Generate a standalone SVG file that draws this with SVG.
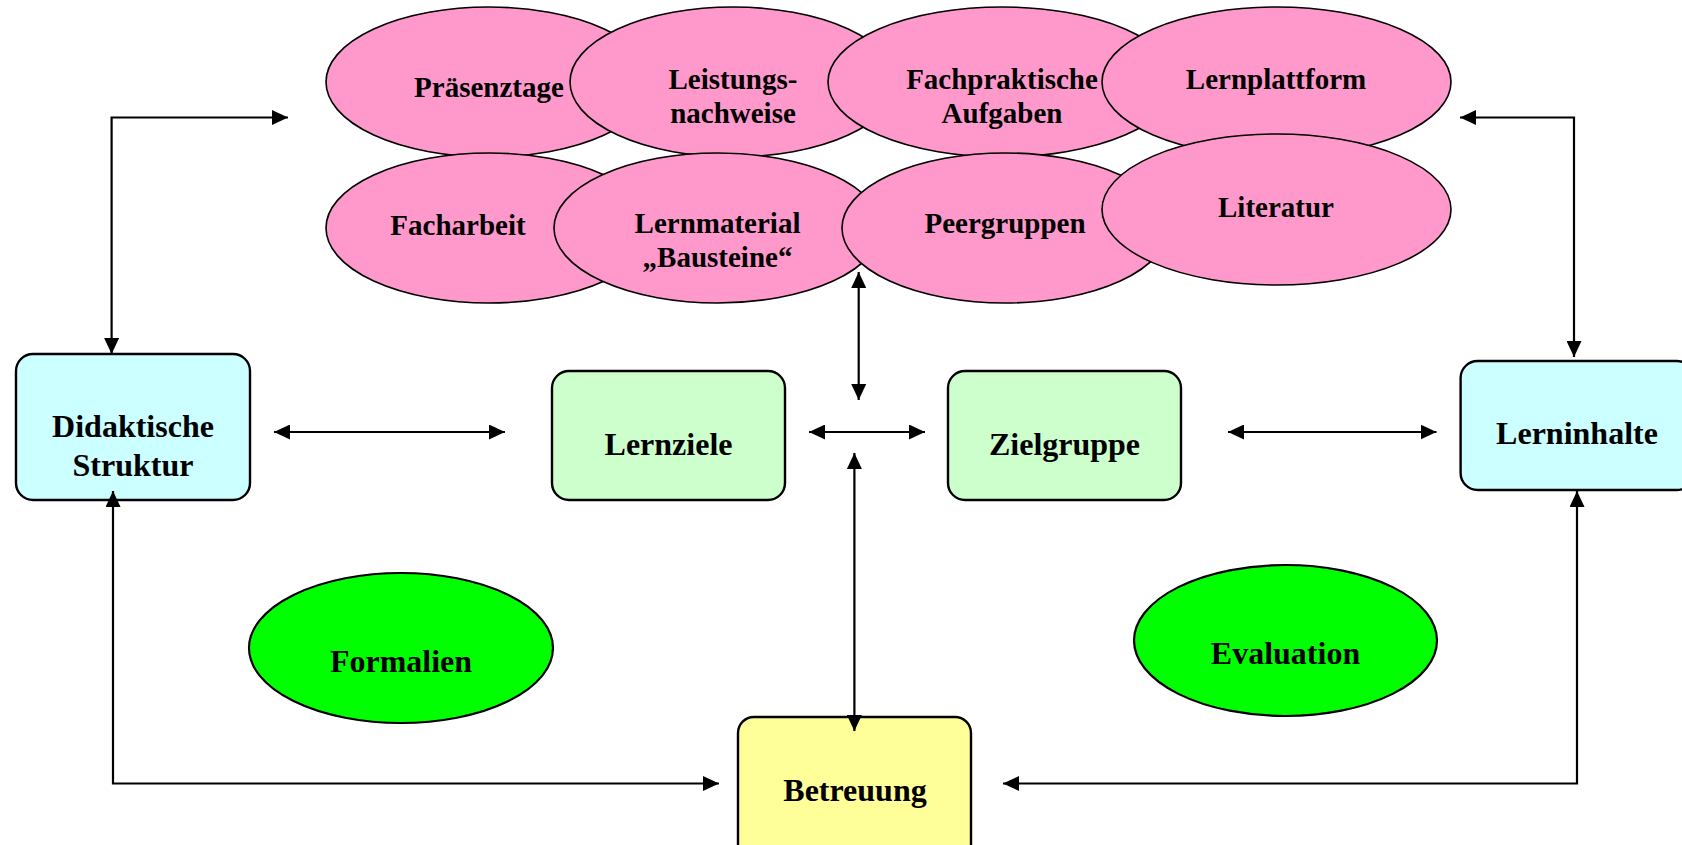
<svg xmlns="http://www.w3.org/2000/svg" width="1682" height="845" viewBox="0 0 1682 845">
<style>
.pink{fill:#FF99CC;stroke:#000;stroke-width:1.6}
.green{fill:#00FF00;stroke:#000;stroke-width:2.2}
.box{stroke:#000;stroke-width:2.4}
.cyan{fill:#CCFFFF}
.lgreen{fill:#CCFFCC}
.yellow{fill:#FFFF99}
text{font-family:"Liberation Serif","Times New Roman",serif;font-weight:bold;fill:#000;text-anchor:middle}
.t29{font-size:29px}
.t32{font-size:32px}
.conn{fill:none;stroke:#000;stroke-width:2.2;marker-start:url(#ah);marker-end:url(#ah)}
</style>
<defs>
<marker id="ah" markerUnits="userSpaceOnUse" markerWidth="16" markerHeight="15" viewBox="0 0 16 15" refX="16" refY="7.5" orient="auto-start-reverse">
<path d="M0,0 L16,7.5 L0,15 z" fill="#000"/>
</marker>
</defs>
<rect width="1682" height="845" fill="#fff"/>

<g id="praesenztage"><ellipse class="pink" cx="489" cy="82" rx="163" ry="75"/><text class="t29" x="489" y="97">Präsenztage</text></g>
<g id="leistungsnachweise"><ellipse class="pink" cx="733" cy="82" rx="163" ry="75"/><text class="t29" x="733" y="89">Leistungs-</text><text class="t29" x="733" y="123">nachweise</text></g>
<g id="fachpraktische"><ellipse class="pink" cx="1002" cy="82" rx="174" ry="75"/><text class="t29" x="1002" y="89">Fachpraktische</text><text class="t29" x="1002" y="123">Aufgaben</text></g>
<g id="lernplattform"><ellipse class="pink" cx="1276.5" cy="82" rx="174.5" ry="75"/><text class="t29" x="1276" y="89">Lernplattform</text></g>
<g id="facharbeit"><ellipse class="pink" cx="489" cy="228" rx="163" ry="75"/><text class="t29" x="458" y="235">Facharbeit</text></g>
<g id="lernmaterial"><ellipse class="pink" cx="717.5" cy="228" rx="163.5" ry="75"/><text class="t29" x="717.5" y="233">Lernmaterial</text><text class="t29" x="717.5" y="267">„Bausteine“</text></g>
<g id="peergruppen"><ellipse class="pink" cx="1005" cy="228" rx="163" ry="75"/><text class="t29" x="1005" y="233">Peergruppen</text></g>
<g id="literatur"><ellipse class="pink" cx="1276.5" cy="209.5" rx="174.5" ry="75.5"/><text class="t29" x="1276" y="217">Literatur</text></g>

<g id="didaktische"><rect class="box cyan" x="16" y="354" width="234" height="146" rx="17"/><text class="t32" x="133" y="437">Didaktische</text><text class="t32" x="133" y="476">Struktur</text></g>
<g id="lernziele"><rect class="box lgreen" x="552" y="371" width="233" height="129" rx="17"/><text class="t32" x="668.5" y="455">Lernziele</text></g>
<g id="zielgruppe"><rect class="box lgreen" x="948" y="371" width="233" height="129" rx="17"/><text class="t32" x="1064.5" y="455">Zielgruppe</text></g>
<g id="lerninhalte"><rect class="box cyan" x="1460.6" y="361" width="233" height="129" rx="17"/><text class="t32" x="1577" y="444">Lerninhalte</text></g>
<g id="betreuung"><rect class="box yellow" x="738" y="717" width="233" height="145" rx="16"/><text class="t32" x="855" y="801">Betreuung</text></g>
<g id="formalien"><ellipse class="green" cx="401" cy="648" rx="152" ry="75"/><text class="t32" x="401" y="672">Formalien</text></g>
<g id="evaluation"><ellipse class="green" cx="1285.5" cy="640.5" rx="151.5" ry="75.5"/><text class="t32" x="1285.5" y="664">Evaluation</text></g>

<g id="connectors">
<path class="conn" d="M288,117.5 H111.6 V354"/>
<path class="conn" d="M1460,117.5 H1574 V357"/>
<path class="conn" d="M274,432 H505"/>
<path class="conn" d="M809,432 H925"/>
<path class="conn" d="M1228,432 H1436.5"/>
<path class="conn" d="M858.7,272 V400"/>
<path class="conn" d="M854.4,453 V731"/>
<path class="conn" d="M113,491 V783.5 H719"/>
<path class="conn" d="M1577,491 V783.5 H1003"/>
</g>
</svg>
